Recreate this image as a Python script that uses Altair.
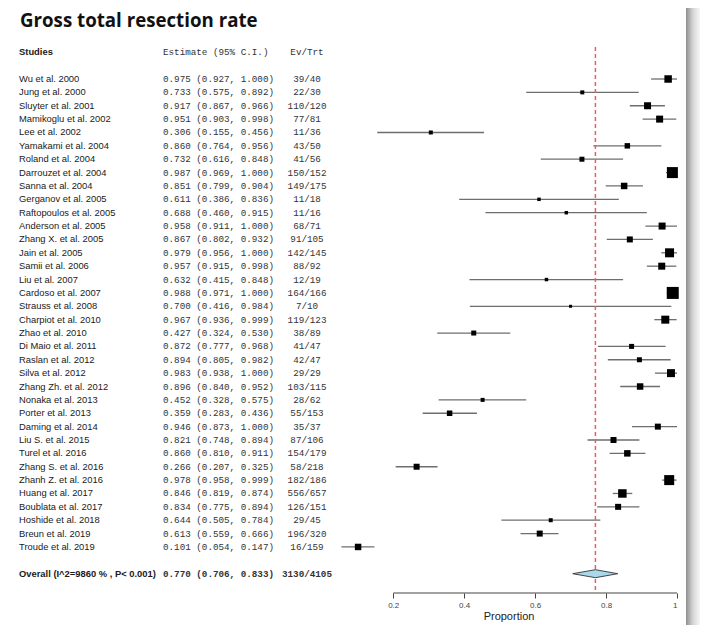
import altair as alt
import pandas as pd

# ---------------- data ----------------
studies = [
    "Wu et al. 2000", "Jung et al. 2000", "Sluyter et al. 2001", "Mamikoglu et al. 2002",
    "Lee et al. 2002", "Yamakami et al. 2004", "Roland et al. 2004", "Darrouzet et al. 2004",
    "Sanna et al. 2004", "Gerganov et al. 2005", "Raftopoulos et al. 2005", "Anderson et al. 2005",
    "Zhang X. et al. 2005", "Jain et al. 2005", "Samii et al. 2006", "Liu et al. 2007",
    "Cardoso et al. 2007", "Strauss et al. 2008", "Charpiot et al. 2010", "Zhao et al. 2010",
    "Di Maio et al. 2011", "Raslan et al. 2012", "Silva et al. 2012", "Zhang Zh. et al. 2012",
    "Nonaka et al. 2013", "Porter et al. 2013", "Daming et al. 2014", "Liu S. et al. 2015",
    "Turel et al.  2016", "Zhang S. et al. 2016", "Zhanh Z. et al. 2016", "Huang et al. 2017",
    "Boublata et al. 2017", "Hoshide et al. 2018", "Breun et al. 2019", "Troude et al. 2019",
]
estimate = [0.975, 0.733, 0.917, 0.951, 0.306, 0.860, 0.732, 0.987, 0.851, 0.611, 0.688, 0.958,
            0.867, 0.979, 0.957, 0.632, 0.988, 0.700, 0.967, 0.427, 0.872, 0.894, 0.983, 0.896,
            0.452, 0.359, 0.946, 0.821, 0.860, 0.266, 0.978, 0.846, 0.834, 0.644, 0.613, 0.101]
ci_low = [0.927, 0.575, 0.867, 0.903, 0.155, 0.764, 0.616, 0.969, 0.799, 0.386, 0.460, 0.911,
          0.802, 0.956, 0.915, 0.415, 0.971, 0.416, 0.936, 0.324, 0.777, 0.805, 0.938, 0.840,
          0.328, 0.283, 0.873, 0.748, 0.810, 0.207, 0.958, 0.819, 0.775, 0.505, 0.559, 0.054]
ci_high = [1.000, 0.892, 0.966, 0.998, 0.456, 0.956, 0.848, 1.000, 0.904, 0.836, 0.915, 1.000,
           0.932, 1.000, 0.998, 0.848, 1.000, 0.984, 0.999, 0.530, 0.968, 0.982, 1.000, 0.952,
           0.575, 0.436, 1.000, 0.894, 0.911, 0.325, 0.999, 0.874, 0.894, 0.784, 0.666, 0.147]
events = [39, 22, 110, 77, 11, 43, 41, 150, 149, 11, 11, 68, 91, 142, 88, 12, 164, 7, 119, 38,
          41, 42, 29, 103, 28, 55, 35, 87, 154, 58, 182, 556, 126, 29, 196, 16]
totals = [40, 30, 120, 81, 36, 50, 56, 152, 175, 18, 16, 71, 105, 145, 92, 19, 166, 10, 123, 89,
          47, 47, 29, 115, 62, 153, 37, 106, 179, 218, 186, 657, 151, 45, 320, 159]
# relative study weights
weight = [56, 16, 49, 49, 16, 30, 25, 121, 42, 12, 12, 49, 36, 81, 49, 12, 144, 9, 64, 25,
          25, 25, 64, 42, 16, 30, 36, 36, 42, 36, 100, 72, 36, 16, 36, 42]

overall_label = "Overall (I^2=9860 % , P< 0.001)"
overall_est, overall_low, overall_high = 0.770, 0.706, 0.833
overall_events, overall_total = 3130, 4105

title_text = "Gross total resection rate"
headers = ["Studies", "Estimate (95% C.I.)", "Ev/Trt"]
x_ticks = [0.2, 0.4, 0.6, 0.8, 1.0]
x_range = [0.05, 1.0]
x_title = "Proportion"

# ---------------- layout ----------------
H = 585
W_FOREST = 337
W_LEFT = 332
ROW_PX = 13.37
FIRST_Y = 71
row_top = -FIRST_Y / ROW_PX
row_bottom = (H - FIRST_Y) / ROW_PX
n = len(studies)
overall_row = n + 1
header_row = -2
title_row = (18.7 - FIRST_Y) / ROW_PX

SANS = "Liberation Sans"
MONO = "Liberation Mono"

yscale = alt.Scale(domain=[row_top, row_bottom], reverse=True, nice=False, zero=False)
Y = alt.Y("row:Q", scale=yscale, axis=None)

df = pd.DataFrame({
    "row": list(range(n)),
    "study": studies,
    "est": estimate,
    "lo": ci_low,
    "hi": ci_high,
    "weight": weight,
    "ci_txt": [f"{e:.3f} ({l:.3f}, {h:.3f})" for e, l, h in zip(estimate, ci_low, ci_high)],
    "ev_txt": [f"{a}/{b}" for a, b in zip(events, totals)],
})
df_over = pd.DataFrame({
    "row": [overall_row],
    "study": [overall_label],
    "ci_txt": [f"{overall_est:.3f} ({overall_low:.3f}, {overall_high:.3f})"],
    "ev_txt": [f"{overall_events}/{overall_total}"],
})
df_head = pd.DataFrame({"row": [header_row], "study": [headers[0]],
                        "ci_txt": [headers[1]], "ev_txt": [headers[2]]})
df_title = pd.DataFrame({"row": [title_row], "t": [title_text]})

X_STUDY, X_CI, X_EV = 11, 155, 299


def text_cols(data, bold, study_bold=None):
    fw = "bold" if bold else "normal"
    sfw = fw if study_bold is None else ("bold" if study_bold else "normal")
    b = alt.Chart(data)
    s = b.mark_text(align="left", baseline="middle", font=SANS, fontSize=9.4,
                    fontWeight=sfw, color="#1a1a1a").encode(x=alt.value(X_STUDY), y=Y, text="study:N")
    c = b.mark_text(align="left", baseline="middle", font=MONO, fontSize=9.25,
                    fontWeight=fw, color="#333333").encode(x=alt.value(X_CI), y=Y, text="ci_txt:N")
    e = b.mark_text(align="center", baseline="middle", font=MONO, fontSize=9.25,
                    fontWeight=fw, color="#333333").encode(x=alt.value(X_EV), y=Y, text="ev_txt:N")
    return [s, c, e]


title_layer = alt.Chart(df_title).mark_text(
    align="left", baseline="alphabetic", font="Open Sans", fontSize=18.7, fontWeight="bold", color="#111111"
).encode(x=alt.value(12), y=Y, text="t:N")

left = alt.layer(
    title_layer,
    *text_cols(df_head, False, study_bold=True),
    *text_cols(df, False),
    *text_cols(df_over, True),
).properties(width=W_LEFT, height=H)

# ---------------- forest panel ----------------
xscale = alt.Scale(domain=x_range, nice=False, zero=False)
xaxis = alt.Axis(values=x_ticks, title=x_title, grid=False, domain=False,
                 labelExpr="datum.value == 1 ? '1' : format(datum.value, '.1f')",
                 labelFont=SANS, labelFontSize=8, labelColor="#444444", labelPadding=3,
                 tickSize=5, tickColor="#444444", tickWidth=1,
                 titleFont=SANS, titleFontSize=11, titleFontWeight="normal", titleColor="#222222",
                 titlePadding=1)

ci = alt.Chart(df).mark_rule(color="#6e6e6e", strokeWidth=1.3).encode(
    x=alt.X("lo:Q", scale=xscale, axis=xaxis), x2="hi:Q", y=Y)
boxes = alt.Chart(df).mark_square(color="black", opacity=1).encode(
    x=alt.X("est:Q", scale=xscale, axis=xaxis), y=Y,
    size=alt.Size("weight:Q", scale=None, legend=None))

half = 4.0 / ROW_PX
df_dia = pd.DataFrame({
    "x": [overall_low, overall_est, overall_high],
    "y": [overall_row, overall_row - half, overall_row],
    "y2": [overall_row, overall_row + half, overall_row],
})
diamond = alt.Chart(df_dia).mark_area(
    fill="#a9d8ea", stroke="#333333", strokeWidth=0.9, orient="vertical", opacity=1
).encode(x=alt.X("x:Q", scale=xscale, axis=xaxis),
         y=alt.Y("y:Q", scale=yscale, axis=None), y2="y2:Q")

ref = alt.Chart(pd.DataFrame({"est": [overall_est]})).mark_rule(
    color="#ec5a6a", strokeDash=[4, 3], strokeWidth=1.5
).encode(x=alt.X("est:Q", scale=xscale, axis=xaxis), y=alt.value(39), y2=alt.value(H))

# axis line spanning the tick range only
axis_line = alt.Chart(pd.DataFrame({"a": [x_ticks[0]], "b": [x_ticks[-1]]})).mark_rule(
    color="#444444", strokeWidth=1
).encode(x=alt.X("a:Q", scale=xscale, axis=xaxis), x2="b:Q", y=alt.value(H))

shadow = alt.Chart(pd.DataFrame({"k": [0]})).mark_rect(
    color=alt.Gradient(gradient="linear",
                       stops=[alt.GradientStop(color="#8f8f8f", offset=0),
                              alt.GradientStop(color="#d6d6d6", offset=0.5),
                              alt.GradientStop(color="#f7f7f7", offset=1)],
                       x1=0, x2=1, y1=0, y2=0)
).encode(x=alt.value(W_FOREST + 9), x2=alt.value(W_FOREST + 23),
         y=alt.value(0), y2=alt.value(617))

forest = alt.layer(ci, ref, boxes, diamond, axis_line, shadow).properties(width=W_FOREST, height=H)

chart = alt.hconcat(left, forest, spacing=0).properties(
    padding={"left": 0, "top": 0, "right": 0, "bottom": 0},
    background="white",
).configure_view(stroke=None)

chart.save("out.html", embed_options={"renderer": "svg", "actions": False})
